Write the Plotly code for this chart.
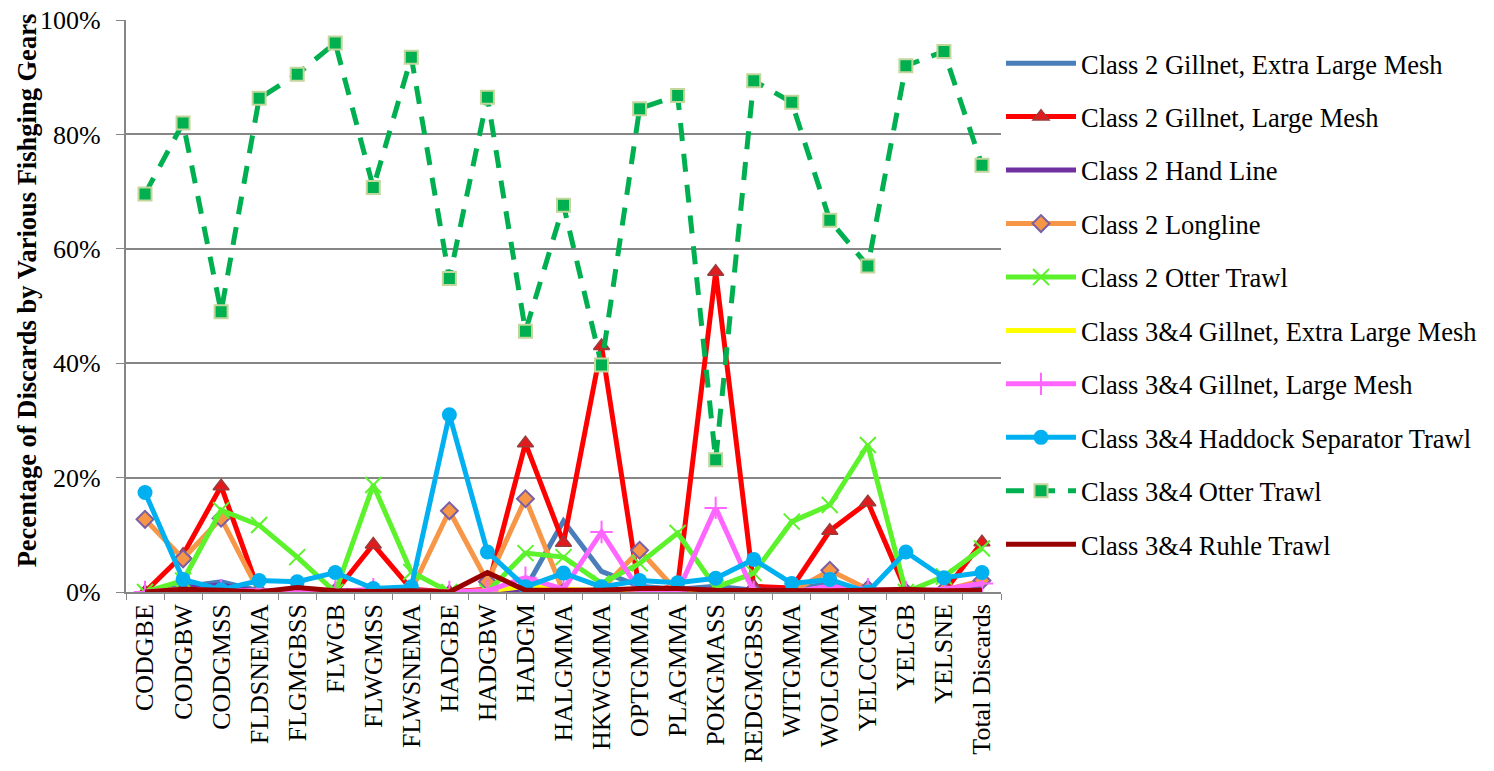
import plotly.graph_objects as go

categories = ["CODGBE", "CODGBW", "CODGMSS", "FLDSNEMA", "FLGMGBSS", "FLWGB",
              "FLWGMSS", "FLWSNEMA", "HADGBE", "HADGBW", "HADGM", "HALGMMA",
              "HKWGMMA", "OPTGMMA", "PLAGMMA", "POKGMASS", "REDGMGBSS", "WITGMMA",
              "WOLGMMA", "YELCCGM", "YELGB", "YELSNE", "Total Discards"]

# Share of discards (%) per stock, by gear
c2_gillnet_xl = [0.0, 1.0, 1.8, 0.2, 0.3, 0.2, 0.2, 0.2, 0.0, 0.3, 0.6, 12.4,
                 3.6, 1.0, 0.5, 1.0, 0.3, 0.5, 1.5, 0.3, 0.2, 0.2, 0.8]
c2_gillnet_lg = [0.0, 6.5, 18.5, 0.0, 0.3, 0.0, 8.3, 0.5, 0.0, 0.5, 26.0, 8.6,
                 43.0, 0.0, 1.0, 56.0, 1.0, 0.7, 10.7, 15.7, 0.3, 0.0, 8.7]
c2_hand_line = [0.0, 0.5, 1.2, 0.0, 0.2, 0.0, 0.2, 0.2, 0.0, 0.2, 0.3, 0.3,
                0.3, 0.3, 0.2, 0.3, 0.2, 0.2, 0.3, 0.2, 0.1, 0.1, 0.3]
c2_longline = [12.7, 5.8, 12.9, 0.0, 0.2, 0.0, 0.2, 0.3, 14.2, 1.8, 16.3, 0.0,
               0.5, 7.3, 0.0, 0.2, 0.0, 0.0, 3.8, 0.5, 0.0, 0.3, 2.0]
c2_otter = [0.0, 2.0, 14.3, 11.7, 6.1, 0.0, 18.7, 3.5, 0.0, 0.0, 6.8, 6.1,
            1.5, 5.0, 10.3, 0.8, 3.3, 12.3, 15.2, 25.7, 0.0, 2.7, 7.6]
c34_gillnet_xl = [0.0, 0.5, 0.2, 0.0, 0.1, 0.0, 0.1, 0.1, 0.0, 0.2, 1.0, 0.5,
                  0.2, 0.3, 0.1, 0.1, 0.1, 0.1, 0.2, 0.1, 0.0, 0.1, 0.2]
c34_gillnet_lg = [0.0, 0.5, 0.3, 0.1, 0.1, 0.1, 0.5, 0.2, 0.0, 0.2, 2.5, 0.5,
                  10.5, 0.2, 0.0, 14.7, 0.0, 0.0, 1.0, 0.5, 0.0, 0.5, 1.5]
c34_haddock_sep = [17.4, 2.2, 0.4, 2.0, 1.8, 3.4, 0.6, 0.9, 31.0, 7.0, 0.9, 3.3,
                   0.9, 2.0, 1.6, 2.4, 5.7, 1.5, 2.2, 0.0, 7.0, 2.5, 3.4]
c34_otter = [69.6, 82.0, 49.0, 86.3, 90.5, 96.0, 70.7, 93.5, 54.8, 86.5, 45.6, 67.6,
             39.7, 84.5, 86.8, 23.1, 89.4, 85.6, 65.0, 57.0, 92.0, 94.5, 74.6]
c34_ruhle = [0.0, 0.5, 0.3, 0.0, 0.8, 0.2, 0.1, 0.2, 0.0, 3.4, 0.3, 0.3,
             0.3, 0.6, 0.6, 0.3, 0.2, 0.2, 0.2, 0.3, 0.5, 0.2, 0.3]

y_tick_vals = [0, 0.2, 0.4, 0.6, 0.8, 1.0]
y_tick_text = ["0%", "20%", "40%", "60%", "80%", "100%"]

FONT = "Liberation Serif"

series = [
    ("Class 2 Gillnet, Extra Large Mesh", c2_gillnet_xl, "#4A7EBB", None, "solid"),
    ("Class 2 Gillnet, Large Mesh", c2_gillnet_lg, "#FF0000",
     dict(symbol="triangle-up", size=14, color="#E31A1C", line=dict(color="#9B3B3B", width=1.5)), "solid"),
    ("Class 2 Hand Line", c2_hand_line, "#7030A0", None, "solid"),
    ("Class 2 Longline", c2_longline, "#F79646",
     dict(symbol="diamond", size=13, color="#F79646", line=dict(color="#7A5FA6", width=2)), "solid"),
    ("Class 2 Otter Trawl", c2_otter, "#5CF22C",
     dict(symbol="x-thin", size=16, color="#5CF22C", line=dict(color="#5CF22C", width=2)), "solid"),
    ("Class 3&4 Gillnet, Extra Large Mesh", c34_gillnet_xl, "#FFFF00", None, "solid"),
    ("Class 3&4 Gillnet, Large Mesh", c34_gillnet_lg, "#FF66FF",
     dict(symbol="cross-thin", size=16, color="#FF66FF", line=dict(color="#FF66FF", width=2)), "solid"),
    ("Class 3&4 Haddock Separator Trawl", c34_haddock_sep, "#00B0F0",
     dict(symbol="circle", size=15, color="#00B0F0", line=dict(width=0)), "solid"),
    ("Class 3&4 Otter Trawl", c34_otter, "#00B050",
     dict(symbol="square", size=13, color="#00B050", line=dict(color="#C3D69B", width=2)), "18px,13px"),
    ("Class 3&4 Ruhle Trawl", c34_ruhle, "#990000", None, "solid"),
]

fig = go.Figure()
for i, (name, vals, color, marker, dash) in enumerate(series):
    fig.add_trace(go.Scatter(
        x=categories,
        y=[v / 100 for v in vals],
        name=name,
        legendgroup=f"g{i}",
        mode="lines+markers" if marker else "lines",
        line=dict(color=color, width=5, dash=dash),
        marker=marker if marker else None,
    ))

fig.update_layout(
    width=1494, height=771,
    paper_bgcolor="white", plot_bgcolor="white",
    margin=dict(l=126, r=490, t=20, b=179),
    font=dict(family=FONT, size=26, color="black"),
    showlegend=True,
    legend=dict(
        x=1.0, xanchor="left", y=0.966, yanchor="top",
        font=dict(family=FONT, size=26.5, color="black"),
        tracegroupgap=16, itemwidth=70,
        bgcolor="rgba(0,0,0,0)",
    ),
    xaxis=dict(
        type="category",
        automargin=False,
        tickangle=-90,
        tickfont=dict(family=FONT, size=26),
        showline=True, linecolor="#868686", linewidth=1.5,
        ticks="outside", tickson="boundaries", ticklen=6, tickcolor="#868686",
        showgrid=False,
        range=[-0.5, len(categories) - 0.5],
    ),
    yaxis=dict(
        range=[0, 1],
        automargin=False,
        tickvals=y_tick_vals,
        ticktext=[t + "\u2009\u2009" for t in y_tick_text],
        tickfont=dict(family=FONT, size=26),
        showline=True, linecolor="#868686", linewidth=1.5,
        ticks="outside", ticklen=8, tickcolor="#868686",
        showgrid=True, gridcolor="#868686", gridwidth=1.5,
        zeroline=False,
    ),
    annotations=[dict(
        text="<b>Pecentage of Discards by Various Fishging Gears</b>",
        textangle=-90,
        xref="paper", yref="paper",
        x=-126 / 878 + 27 / 878, xanchor="center",
        y=1 - (290 - 20) / 572, yanchor="middle",
        showarrow=False,
        font=dict(family=FONT, size=26.5, color="black"),
    )],
)

fig.write_html("out.html")
